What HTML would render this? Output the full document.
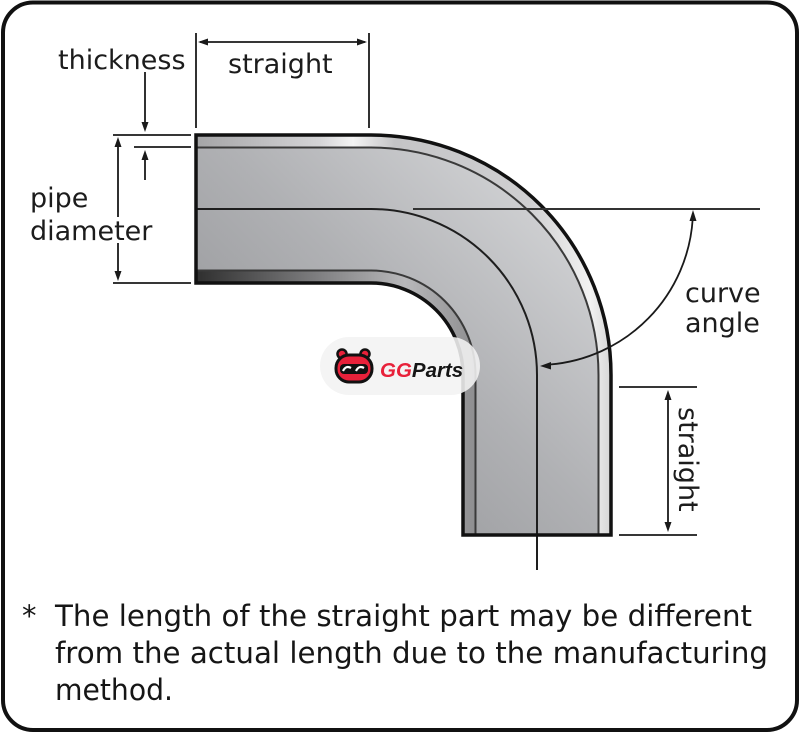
<!DOCTYPE html>
<html>
<head>
<meta charset="utf-8">
<style>
  html,body{margin:0;padding:0;background:#fff;}
  svg{display:block;}
  .lbl{font-family:"DejaVu Sans","Liberation Sans",sans-serif;font-size:27px;fill:#1c1c1c;}
  .fn{font-family:"DejaVu Sans","Liberation Sans",sans-serif;font-size:29px;fill:#161616;}
</style>
</head>
<body>
<svg width="800" height="734" viewBox="0 0 800 734" xmlns="http://www.w3.org/2000/svg">
  <defs>
    <linearGradient id="gb" gradientUnits="userSpaceOnUse" x1="220" y1="520" x2="600" y2="140">
      <stop offset="0" stop-color="#8c8d90"/>
      <stop offset="0.5" stop-color="#b0b1b4"/>
      <stop offset="1" stop-color="#dedfe1"/>
    </linearGradient>
    <linearGradient id="gout" gradientUnits="userSpaceOnUse" x1="195" y1="0" x2="611" y2="0">
      <stop offset="0" stop-color="#a4a4a6"/>
      <stop offset="0.3" stop-color="#d4d4d6"/>
      <stop offset="0.38" stop-color="#f4f4f4"/>
      <stop offset="0.48" stop-color="#c4c4c6"/>
      <stop offset="0.8" stop-color="#cfcfd1"/>
      <stop offset="0.95" stop-color="#f2f2f2"/>
      <stop offset="1" stop-color="#d6d6d6"/>
    </linearGradient>
    <linearGradient id="gin" gradientUnits="userSpaceOnUse" x1="195" y1="0" x2="475" y2="0">
      <stop offset="0" stop-color="#2e2e2e"/>
      <stop offset="0.5" stop-color="#8a8a8c"/>
      <stop offset="0.75" stop-color="#b8b8ba"/>
      <stop offset="1" stop-color="#8e8e90"/>
    </linearGradient>
  </defs>

  <!-- frame -->
  <rect x="3" y="2.5" width="794" height="727.5" rx="30" ry="30" fill="#fff" stroke="#111" stroke-width="4"/>

  <!-- pipe body -->
  <path d="M195,135 H371 A240,240 0 0 1 611,375 V535 H463 V375 A92,92 0 0 0 371,283 H195 Z" fill="url(#gb)"/>
  <!-- outer wall band -->
  <path d="M195,135 H371 A240,240 0 0 1 611,375 V535 H599 V375 A228,228 0 0 0 371,147 H195 Z" fill="url(#gout)"/>
  <!-- inner wall band -->
  <path d="M195,271 H371 A104,104 0 0 1 475,375 V535 H463 V375 A92,92 0 0 0 371,283 H195 Z" fill="url(#gin)"/>
  <!-- wall inner lines -->
  <path d="M197,147.5 H371 A227.5,227.5 0 0 1 598.5,375 V535" fill="none" stroke="#3a3a3a" stroke-width="2"/>
  <path d="M197,270.5 H371 A104.5,104.5 0 0 1 475.5,375 V535" fill="none" stroke="#3a3a3a" stroke-width="2"/>
  <!-- centerline -->
  <path d="M197,209 H371 A166,166 0 0 1 537,375 V570" fill="none" stroke="#1e1e1e" stroke-width="2"/>
  <!-- outline -->
  <path d="M196,135 H371 A240,240 0 0 1 611,375 V535 H463 V375 A92,92 0 0 0 371,283 H196 Z" fill="none" stroke="#111" stroke-width="3.5" stroke-linejoin="miter"/>

  <!-- angle reference line -->
  <line x1="413" y1="209" x2="760" y2="209" stroke="#333" stroke-width="2"/>

  <!-- logo pill -->
  <rect x="320" y="337" width="160" height="58" rx="29" ry="29" fill="#f3f3f3" fill-opacity="0.88"/>
  <!-- mascot -->
  <circle cx="342" cy="354" r="4.5" fill="#e8213a" stroke="#111" stroke-width="2.5"/>
  <circle cx="365" cy="354" r="4.5" fill="#e8213a" stroke="#111" stroke-width="2.5"/>
  <rect x="336" y="355" width="36" height="27" rx="13" ry="13" fill="#e8213a" stroke="#111" stroke-width="3"/>
  <rect x="340" y="364" width="28" height="10" rx="4" fill="#111"/>
  <path d="M343,371 q3,-6 8,-3 M356,371 q3,-6 8,-3" fill="none" stroke="#fff" stroke-width="2.2"/>
  <text x="380" y="377" font-family="'Liberation Sans',sans-serif" font-weight="bold" font-style="italic" font-size="20.5"><tspan fill="#e8213a">GG</tspan><tspan fill="#151515">Parts</tspan></text>

  <!-- angle arc -->
  <path d="M692.7,219 A156,156 0 0 1 550,364.5" fill="none" stroke="#1a1a1a" stroke-width="1.8"/>
  <polygon points="693,210 689.5,221 696.5,221" fill="#1a1a1a"/>
  <polygon points="540,366 551,362 551,369.5" fill="#1a1a1a"/>

  <!-- top straight dimension -->
  <line x1="196" y1="33" x2="196" y2="128" stroke="#1a1a1a" stroke-width="1.8"/>
  <line x1="369" y1="33" x2="369" y2="128" stroke="#1a1a1a" stroke-width="1.8"/>
  <line x1="200" y1="42" x2="365" y2="42" stroke="#1a1a1a" stroke-width="1.8"/>
  <polygon points="198,42 208,38.5 208,45.5" fill="#1a1a1a"/>
  <polygon points="367,42 357,38.5 357,45.5" fill="#1a1a1a"/>

  <!-- thickness -->
  <line x1="113" y1="135" x2="191" y2="135" stroke="#1a1a1a" stroke-width="1.8"/>
  <line x1="134" y1="147" x2="191" y2="147" stroke="#1a1a1a" stroke-width="1.8"/>
  <line x1="145" y1="72" x2="145" y2="125" stroke="#1a1a1a" stroke-width="1.8"/>
  <polygon points="145,132 141.5,122 148.5,122" fill="#1a1a1a"/>
  <line x1="145" y1="157" x2="145" y2="180" stroke="#1a1a1a" stroke-width="1.8"/>
  <polygon points="145,150 141.5,160 148.5,160" fill="#1a1a1a"/>

  <!-- pipe diameter -->
  <line x1="113" y1="283" x2="191" y2="283" stroke="#1a1a1a" stroke-width="1.8"/>
  <line x1="118" y1="143" x2="118" y2="217" stroke="#1a1a1a" stroke-width="1.8"/>
  <line x1="118" y1="243" x2="118" y2="275" stroke="#1a1a1a" stroke-width="1.8"/>
  <polygon points="118,137 114.5,147 121.5,147" fill="#1a1a1a"/>
  <polygon points="118,281 114.5,271 121.5,271" fill="#1a1a1a"/>

  <!-- right straight dimension -->
  <line x1="619" y1="387" x2="697" y2="387" stroke="#1a1a1a" stroke-width="1.8"/>
  <line x1="619" y1="535" x2="697" y2="535" stroke="#1a1a1a" stroke-width="1.8"/>
  <line x1="668" y1="396" x2="668" y2="526" stroke="#1a1a1a" stroke-width="1.8"/>
  <polygon points="668,390 664.5,400 671.5,400" fill="#1a1a1a"/>
  <polygon points="668,532 664.5,522 671.5,522" fill="#1a1a1a"/>

  <!-- labels -->
  <text class="lbl" x="58" y="69">thickness</text>
  <text class="lbl" x="228" y="73">straight</text>
  <text class="lbl" x="30" y="207">pipe</text>
  <text class="lbl" x="30" y="240">diameter</text>
  <text class="lbl" x="685" y="302">curve</text>
  <text class="lbl" x="685" y="332">angle</text>
  <text class="lbl" transform="translate(679,407) rotate(90)">straight</text>

  <!-- footnote -->
  <text class="fn" x="22" y="626">*</text>
  <text class="fn" x="55" y="626" textLength="697" lengthAdjust="spacingAndGlyphs">The length of the straight part may be different</text>
  <text class="fn" x="55" y="663" textLength="713" lengthAdjust="spacingAndGlyphs">from the actual length due to the manufacturing</text>
  <text class="fn" x="55" y="700" textLength="118" lengthAdjust="spacingAndGlyphs">method.</text>
</svg>
</body>
</html>
